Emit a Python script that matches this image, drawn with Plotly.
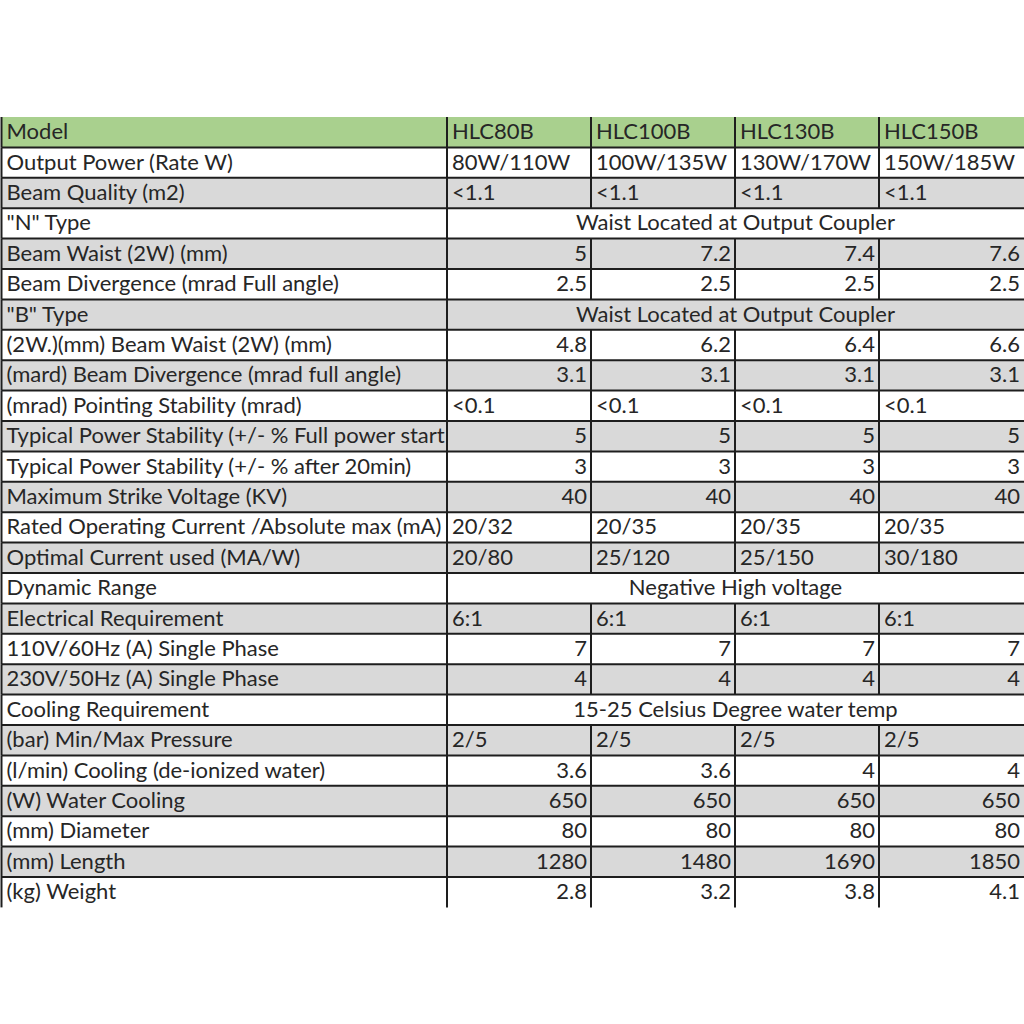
"""
Laser tube spec sheet rebuilt as a Plotly figure (cells as shapes, text as scatter).
"""
import plotly.graph_objects as go

# ── Data ─────────────────────────────────────────────────────────────────────
MODELS = ["HLC80B", "HLC100B", "HLC130B", "HLC150B"]

ROW_LABELS = [
    "Model",
    "Output Power (Rate W)",
    "Beam Quality (m2)",
    '"N" Type',
    "Beam Waist (2W) (mm)",
    "Beam Divergence (mrad Full angle)",
    '"B" Type',
    "(2W.)(mm) Beam Waist (2W) (mm)",
    "(mard) Beam Divergence (mrad full angle)",
    "(mrad) Pointing Stability (mrad)",
    "Typical Power Stability (+/- % Full power start",
    "Typical Power Stability (+/- % after 20min)",
    "Maximum Strike Voltage (KV)",
    "Rated Operating Current /Absolute max (mA)",
    "Optimal Current used (MA/W)",
    "Dynamic Range",
    "Electrical Requirement",
    "110V/60Hz (A) Single Phase",
    "230V/50Hz (A) Single Phase",
    "Cooling Requirement",
    "(bar) Min/Max Pressure",
    "(l/min) Cooling (de-ionized water)",
    "(W) Water Cooling",
    "(mm) Diameter",
    "(mm) Length",
    "(kg) Weight",
]

# per-model values, one per body row (None = row is a merged cell)
HLC80B = ["80W/110W", "<1.1", None, 5, 2.5, None, 4.8, 3.1, "<0.1", 5, 3, 40,
          "20/32", "20/80", None, "6:1", 7, 4, None, "2/5", 3.6, 650, 80, 1280, 2.8]
HLC100B = ["100W/135W", "<1.1", None, 7.2, 2.5, None, 6.2, 3.1, "<0.1", 5, 3, 40,
           "20/35", "25/120", None, "6:1", 7, 4, None, "2/5", 3.6, 650, 80, 1480, 3.2]
HLC130B = ["130W/170W", "<1.1", None, 7.4, 2.5, None, 6.4, 3.1, "<0.1", 5, 3, 40,
           "20/35", "25/150", None, "6:1", 7, 4, None, "2/5", 4, 650, 80, 1690, 3.8]
HLC150B = ["150W/185W", "<1.1", None, 7.6, 2.5, None, 6.6, 3.1, "<0.1", 5, 3, 40,
           "20/35", "30/180", None, "6:1", 7, 4, None, "2/5", 4, 650, 80, 1850, 4.1]

# merged rows (index into ROW_LABELS) -> text spanning all model columns
MERGED = {
    3: "Waist Located at Output Coupler",
    6: "Waist Located at Output Coupler",
    15: "Negative High voltage",
    19: "15-25 Celsius Degree water temp",
}

# ── Layout constants ─────────────────────────────────────────────────────────
X_EDGES = [1.5, 447, 591, 735, 879, 1030]   # column boundaries (px on x axis)
TOP_PX = 117
ROW_PX = 30.4
FIG_W = FIG_H = 1024

GREEN = "#A9D08E"
GRAY = "#D9D9D9"
WHITE = "#FFFFFF"
LINE = "#1e1e1e"
TEXT = "#262626"
FONT = "Lato"
FONT_SIZE = 22
PAD_L = 5
PAD_R = 4
RIGHT_TEXT_EDGE = 1024                     # last column's numbers end here

n_rows = len(ROW_LABELS)
model_cols = [HLC80B, HLC100B, HLC130B, HLC150B]

shapes = []
# row fills
for r in range(n_rows):
    fill = GREEN if r == 0 else (WHITE if r % 2 == 1 else GRAY)
    shapes.append(dict(type="rect", xref="x", yref="y", layer="below",
                       x0=X_EDGES[0], x1=X_EDGES[-1], y0=r, y1=r + 1,
                       fillcolor=fill, line=dict(width=0)))
# horizontal rules between rows
for r in range(1, n_rows):
    shapes.append(dict(type="line", xref="x", yref="y", layer="above",
                       x0=X_EDGES[0], x1=X_EDGES[-1], y0=r, y1=r,
                       line=dict(color=LINE, width=2)))
# vertical rules
for r in range(n_rows):
    edges = [X_EDGES[0], X_EDGES[1]] if r in MERGED else X_EDGES[:-1]
    for x in edges:
        shapes.append(dict(type="line", xref="x", yref="y", layer="above",
                           x0=x, x1=x, y0=r, y1=r + 1,
                           line=dict(color=LINE, width=2)))

# text placement
left_x, left_y, left_t = [], [], []
right_x, right_y, right_t = [], [], []
mid_x, mid_y, mid_t = [], [], []

for r, label in enumerate(ROW_LABELS):
    yc = r + 0.55
    left_x.append(X_EDGES[0] + PAD_L)
    left_y.append(yc)
    left_t.append(label)
    if r == 0:
        for c, m in enumerate(MODELS):
            left_x.append(X_EDGES[c + 1] + PAD_L)
            left_y.append(yc)
            left_t.append(m)
        continue
    if r in MERGED:
        mid_x.append((X_EDGES[1] + RIGHT_TEXT_EDGE) / 2)
        mid_y.append(yc)
        mid_t.append(MERGED[r])
        continue
    for c, col in enumerate(model_cols):
        v = col[r - 1]
        if isinstance(v, (int, float)):
            x_end = RIGHT_TEXT_EDGE if c == len(model_cols) - 1 else X_EDGES[c + 2]
            right_x.append(x_end - PAD_R)
            right_y.append(yc)
            right_t.append(f"{v:g}")
        else:
            left_x.append(X_EDGES[c + 1] + PAD_L)
            left_y.append(yc)
            left_t.append(v)

font = dict(family=FONT, size=FONT_SIZE, color=TEXT)
fig = go.Figure()
for xs, ys, ts, pos in [(left_x, left_y, left_t, "middle right"),
                        (right_x, right_y, right_t, "middle left"),
                        (mid_x, mid_y, mid_t, "middle center")]:
    fig.add_trace(go.Scatter(x=xs, y=ys, text=ts, mode="text", textposition=pos,
                             textfont=font, hoverinfo="skip", cliponaxis=False))

fig.update_layout(
    width=FIG_W,
    height=FIG_H,
    margin=dict(l=0, r=0, t=0, b=0),
    paper_bgcolor=WHITE,
    plot_bgcolor=WHITE,
    showlegend=False,
    shapes=shapes,
    xaxis=dict(range=[0, FIG_W], visible=False, fixedrange=True),
    yaxis=dict(range=[(FIG_H - TOP_PX) / ROW_PX, -TOP_PX / ROW_PX],
               visible=False, fixedrange=True),
)
# drop the page's default body margin so the figure sits at the window's corner
fig.write_html("out.html", config={"displayModeBar": False},
               post_script="document.body.style.margin='0';")
